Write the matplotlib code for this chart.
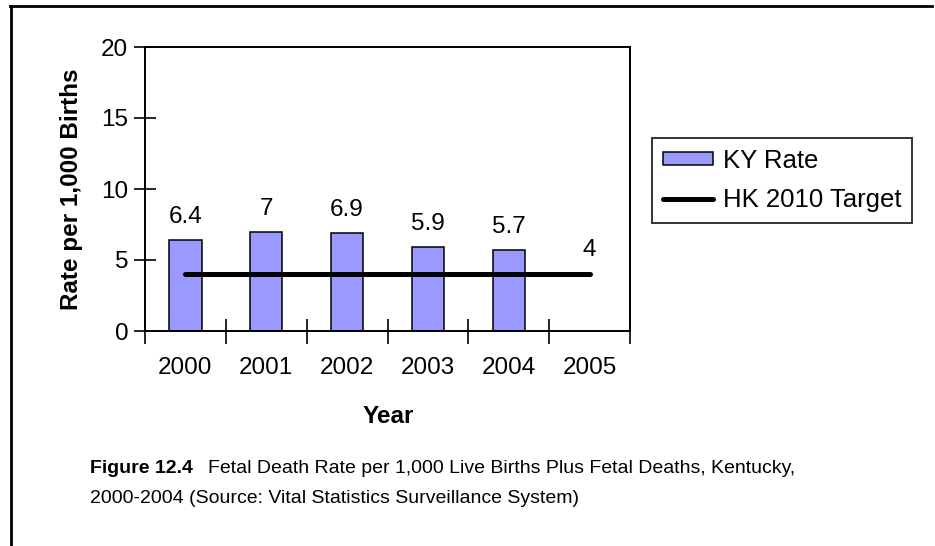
import matplotlib
matplotlib.use("Agg")
import matplotlib.pyplot as plt
from matplotlib.lines import Line2D

plt.rcParams['font.family'] = ['Liberation Sans', 'DejaVu Sans']

years = ["2000", "2001", "2002", "2003", "2004", "2005"]
ky_rate = [6.4, 7.0, 6.9, 5.9, 5.7]
ky_labels = ["6.4", "7", "6.9", "5.9", "5.7"]
target = [4, 4, 4, 4, 4, 4]
yticks = [0, 5, 10, 15, 20]
caption_bold = "Figure 12.4"
caption_1 = "Fetal Death Rate per 1,000 Live Births Plus Fetal Deaths, Kentucky,"
caption_2 = "2000-2004 (Source: Vital Statistics Surveillance System)"

W, H = 935, 546
FS = 17.5
fig = plt.figure(figsize=(W / 100, H / 100), dpi=100)

def fy(py):
    return 1 - py / H

# axes: left 145, right 630, top 47, bottom 331 (pixels)
ax = fig.add_axes([145 / W, fy(331), (630 - 145) / W, (331 - 47) / H])

xs = list(range(len(years)))
ax.bar(xs[:len(ky_rate)], ky_rate, width=0.4, color="#9999FF",
       edgecolor="black", linewidth=1.1, zorder=2)
ax.plot(xs, target, color="black", linewidth=3.6, solid_capstyle="round", zorder=3)

for x, v, lab in zip(xs, ky_rate, ky_labels):
    ax.text(x, v + 1.2, lab, ha="center", va="baseline", fontsize=FS)
ax.text(xs[-1], target[-1] + 1.3, str(target[-1]), ha="center", va="baseline", fontsize=FS)

ax.set_xlim(-0.5, len(years) - 0.5)
ax.set_ylim(0, 20)
ax.set_yticks(yticks)
ax.set_yticklabels([str(t) for t in yticks], fontsize=FS)
ax.tick_params(axis="y", direction="inout", length=16, width=1.2, pad=4)

ax.set_xticks([i - 0.5 for i in range(len(years) + 1)])
ax.set_xticklabels([])
ax.set_xticks(xs, minor=True)
ax.set_xticklabels(years, minor=True, fontsize=FS)
ax.tick_params(axis="x", which="major", direction="inout", length=18, width=1.2)
ax.tick_params(axis="x", which="minor", length=0, pad=19)

for s in ax.spines.values():
    s.set_linewidth(1.4)

fig.text(78 / W, fy(189), "Rate per 1,000 Births", fontsize=FS, fontweight="bold",
         rotation=90, rotation_mode="anchor", ha="center", va="baseline")
fig.text(388 / W, fy(423), "Year", fontsize=FS, fontweight="bold",
         ha="center", va="baseline")

LFS = 18.5
handles = [
    plt.Rectangle((0, 0), 1, 1, facecolor="#9999FF", edgecolor="black", linewidth=1.1),
    Line2D([0], [0], color="black", linewidth=3.6, solid_capstyle="round"),
]
leg = fig.legend(handles, ["KY Rate", "HK 2010 Target"], loc="upper left",
                 bbox_to_anchor=(652 / W, fy(138)), fontsize=LFS,
                 frameon=True, fancybox=False, edgecolor="black",
                 handlelength=1.95, handleheight=0.42, handletextpad=0.4,
                 borderpad=0.42, labelspacing=0.6, borderaxespad=0)
leg.get_frame().set_linewidth(1.4)

# outer frame lines (top and left)
fig.add_artist(Line2D([10 / W, 932 / W], [fy(6), fy(6)], color="black", linewidth=2.0))
fig.add_artist(Line2D([11 / W, 11 / W], [fy(6), 0], color="black", linewidth=2.0))

CFS = 14
t_bold = fig.text(90 / W, fy(473), caption_bold, fontsize=CFS, fontweight="bold", va="baseline")
fig.canvas.draw()
bb = t_bold.get_window_extent(renderer=fig.canvas.get_renderer())
fig.text((bb.x1 + 15) / W, fy(473), caption_1, fontsize=CFS, va="baseline")
fig.text(90 / W, fy(503), caption_2, fontsize=CFS, va="baseline")

fig.savefig("out.png", dpi=100, facecolor="white")
